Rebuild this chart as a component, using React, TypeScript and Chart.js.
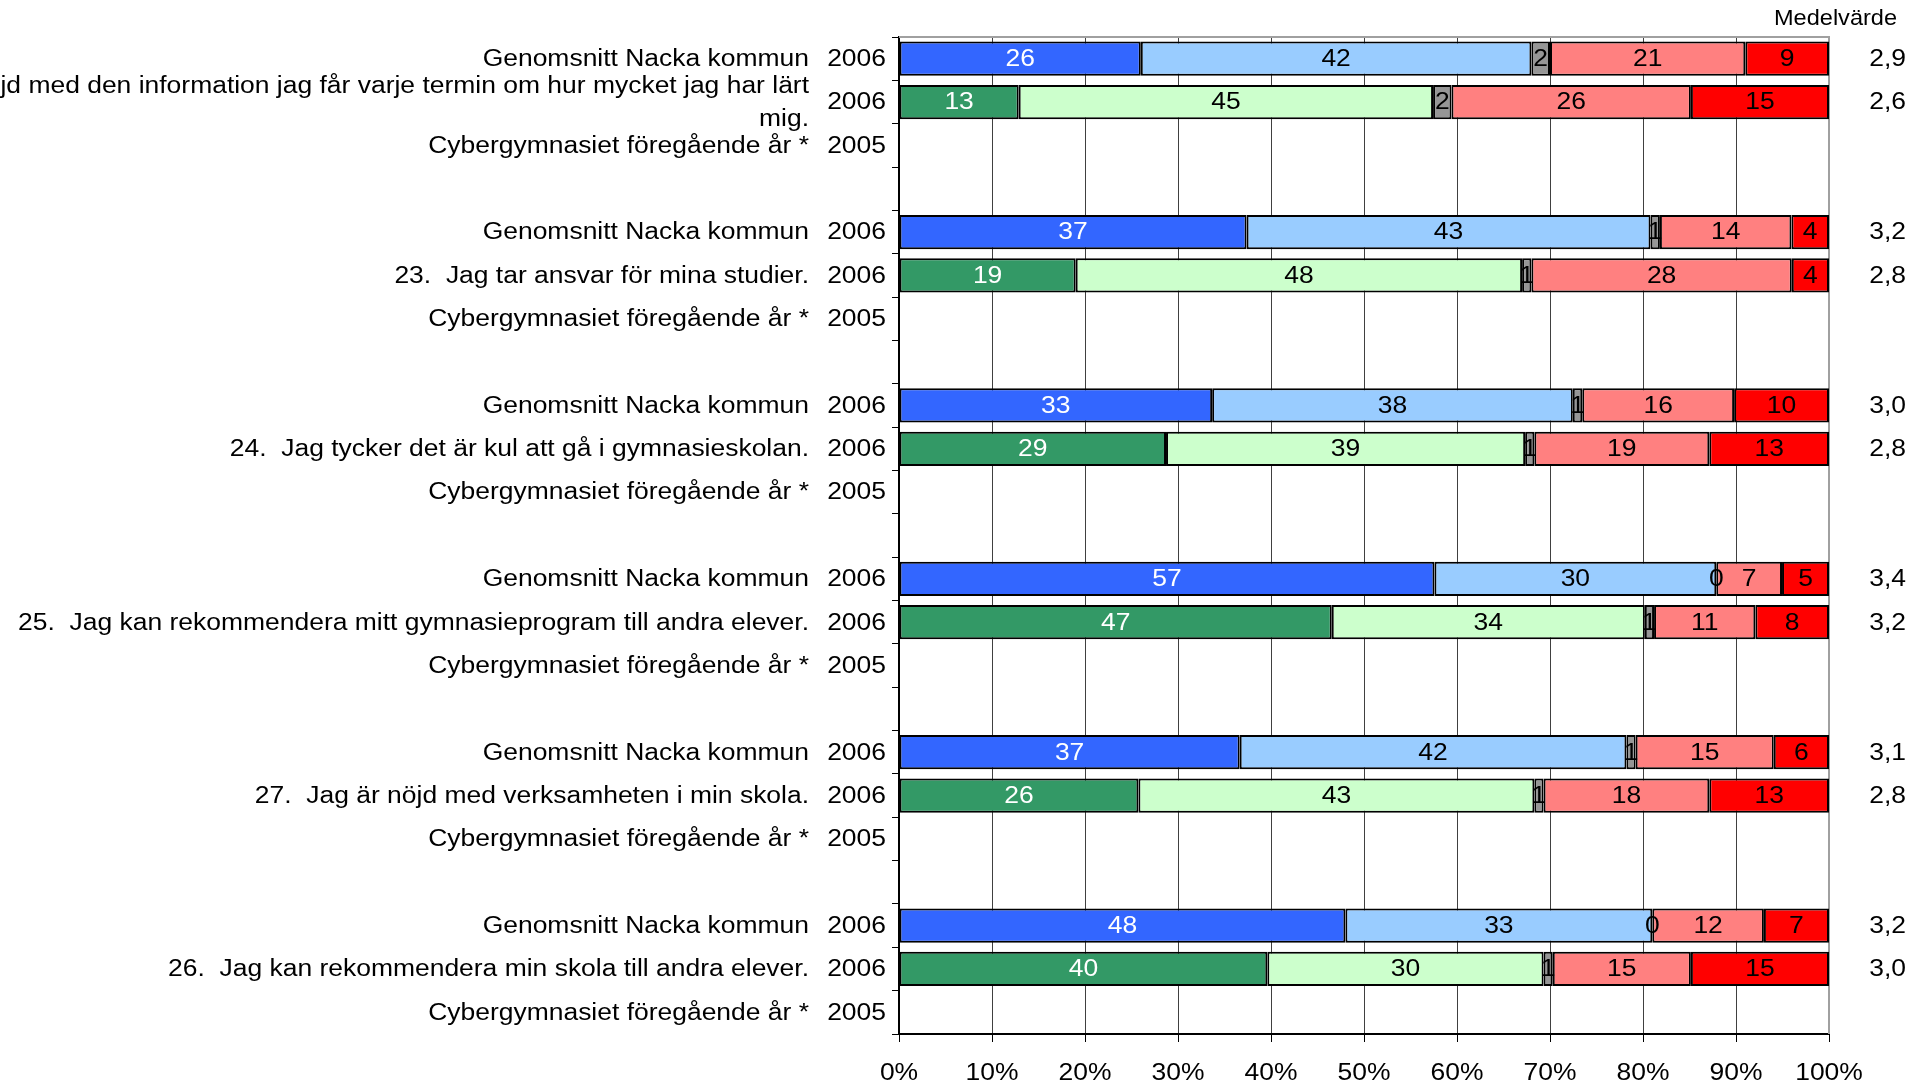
import React, { useEffect, useRef } from "react";
import { Chart, registerables } from "chart.js";

Chart.register(...registerables);

// ---------- data ----------
const rowLabels: string[][] = [
  ["Genomsnitt Nacka kommun"],
  ["22.  Jag är nöjd med den information jag får varje termin om hur mycket jag har lärt", "mig."],
  ["Cybergymnasiet föregående år *"],
  [""],
  ["Genomsnitt Nacka kommun"],
  ["23.  Jag tar ansvar för mina studier."],
  ["Cybergymnasiet föregående år *"],
  [""],
  ["Genomsnitt Nacka kommun"],
  ["24.  Jag tycker det är kul att gå i gymnasieskolan."],
  ["Cybergymnasiet föregående år *"],
  [""],
  ["Genomsnitt Nacka kommun"],
  ["25.  Jag kan rekommendera mitt gymnasieprogram till andra elever."],
  ["Cybergymnasiet föregående år *"],
  [""],
  ["Genomsnitt Nacka kommun"],
  ["27.  Jag är nöjd med verksamheten i min skola."],
  ["Cybergymnasiet föregående år *"],
  [""],
  ["Genomsnitt Nacka kommun"],
  ["26.  Jag kan rekommendera min skola till andra elever."],
  ["Cybergymnasiet föregående år *"],
];

const rowYears: string[] = [
  "2006", "2006", "2005", "",
  "2006", "2006", "2005", "",
  "2006", "2006", "2005", "",
  "2006", "2006", "2005", "",
  "2006", "2006", "2005", "",
  "2006", "2006", "2005",
];

// "n" = Nacka average (blue), "s" = school (green), "" = no bar
const rowKinds: string[] = [
  "n", "s", "", "",
  "n", "s", "", "",
  "n", "s", "", "",
  "n", "s", "", "",
  "n", "s", "", "",
  "n", "s", "",
];

const seriesNames = ["Positivt helt", "Positivt delvis", "Vet ej", "Negativt delvis", "Negativt helt"];

const valuesA: (number | null)[] = [26, 13, null, null, 37, 19, null, null, 33, 29, null, null, 57, 47, null, null, 37, 26, null, null, 48, 40, null];
const valuesB: (number | null)[] = [42, 45, null, null, 43, 48, null, null, 38, 39, null, null, 30, 34, null, null, 42, 43, null, null, 33, 30, null];
const valuesC: (number | null)[] = [2, 2, null, null, 1, 1, null, null, 1, 1, null, null, 0, 1, null, null, 1, 1, null, null, 0, 1, null];
const valuesD: (number | null)[] = [21, 26, null, null, 14, 28, null, null, 16, 19, null, null, 7, 11, null, null, 15, 18, null, null, 12, 15, null];
const valuesE: (number | null)[] = [9, 15, null, null, 4, 4, null, null, 10, 13, null, null, 5, 8, null, null, 6, 13, null, null, 7, 15, null];

const meanValues: string[] = [
  "2,9", "2,6", "", "",
  "3,2", "2,8", "", "",
  "3,0", "2,8", "", "",
  "3,4", "3,2", "", "",
  "3,1", "2,8", "", "",
  "3,2", "3,0", "",
];

const meanHeader = "Medelvärde";
const xTickValues = [0, 10, 20, 30, 40, 50, 60, 70, 80, 90, 100];

// ---------- styling ----------
const colorsNacka = ["#3366FF", "#99CCFF", "#969696", "#FF8080", "#FF0000"];
const colorsSchool = ["#339966", "#CCFFCC", "#969696", "#FF8080", "#FF0000"];
const labelColors = ["#FFFFFF", "#000000", "#000000", "#000000", "#000000"];

const FAMILY = '"Liberation Sans", Arial, Helvetica, sans-serif';
const SX = 1.15;

function drawText(
  ctx: CanvasRenderingContext2D,
  s: string,
  x: number,
  y: number,
  align: CanvasTextAlign,
  color: string,
  size = 23,
  sx = SX
) {
  ctx.save();
  ctx.translate(x, y);
  ctx.scale(sx, 1);
  ctx.font = `${size}px ${FAMILY}`;
  ctx.textAlign = align;
  ctx.textBaseline = "middle";
  ctx.fillStyle = color;
  ctx.fillText(s, 0, 0);
  ctx.restore();
}

export default function App() {
  const ref = useRef<HTMLCanvasElement | null>(null);

  useEffect(() => {
    if (!ref.current) return;
    const series = [valuesA, valuesB, valuesC, valuesD, valuesE];
    const sums = rowKinds.map((_, i) =>
      series.reduce((acc, s) => acc + (s[i] ?? 0), 0)
    );
    const datasets = series.map((s, k) => ({
      label: seriesNames[k],
      data: s.map((v, i) => (v === null ? null : (v / sums[i]) * 100)),
      backgroundColor: rowKinds.map((kind) => (kind === "s" ? colorsSchool[k] : colorsNacka[k])),
      borderColor: "#000000",
      borderWidth: 2,
      borderSkipped: false as const,
      barPercentage: 0.79,
      categoryPercentage: 1,
    }));

    const framePlugin = {
      id: "frame",
      beforeDatasetsDraw(chart: any) {
        const { ctx, chartArea } = chart;
        ctx.save();
        ctx.strokeStyle = "#A0A0A0";
        ctx.lineWidth = 2;
        ctx.beginPath();
        ctx.moveTo(chartArea.left, chartArea.top);
        ctx.lineTo(chartArea.right, chartArea.top);
        ctx.lineTo(chartArea.right, chartArea.bottom);
        ctx.stroke();
        ctx.restore();
      },
    };

    const labelPlugin = {
      id: "labels",
      afterDatasetsDraw(chart: any) {
        const ctx = chart.ctx as CanvasRenderingContext2D;
        chart.data.datasets.forEach((_: any, k: number) => {
          const meta = chart.getDatasetMeta(k);
          meta.data.forEach((el: any, i: number) => {
            const raw = series[k][i];
            if (raw === null) return;
            const c = el.getCenterPoint();
            drawText(ctx, String(raw), c.x, c.y + 1, "center", labelColors[k]);
          });
        });
      },
      afterDraw(chart: any) {
        const ctx = chart.ctx as CanvasRenderingContext2D;
        const y = chart.scales.y;
        const x = chart.scales.x;
        const area = chart.chartArea;
        rowLabels.forEach((lines, i) => {
          const cy = y.getPixelForValue(i);
          const lh = 33;
          const y0 = cy - ((lines.length - 1) * lh) / 2;
          lines.forEach((ln, j) => {
            if (ln) drawText(ctx, ln, area.left - 90, y0 + j * lh + 1, "right", "#000");
          });
          if (rowYears[i]) drawText(ctx, rowYears[i], area.left - 13, cy + 1, "right", "#000");
          if (meanValues[i]) drawText(ctx, meanValues[i], 1906, cy + 1, "right", "#000");
        });
        drawText(ctx, meanHeader, 1897, 19, "right", "#000", 22, 1.07);
        xTickValues.forEach((v) => {
          drawText(ctx, v + "%", x.getPixelForValue(v), area.bottom + 40, "center", "#000");
        });
      },
    };

    const chart = new Chart(ref.current, {
      type: "bar",
      data: {
        labels: rowLabels.map((l) => l.join(" ")),
        datasets,
      },
      options: {
        indexAxis: "y",
        responsive: false,
        animation: false,
        devicePixelRatio: 1,
        layout: { padding: { left: 0, top: 37, right: 97, bottom: 0 } },
        plugins: {
          legend: { display: false },
          title: { display: false },
          tooltip: { enabled: false },
        },
        scales: {
          x: {
            type: "linear",
            stacked: true,
            min: 0,
            max: 100,
            afterBuildTicks: (scale: any) => {
              scale.ticks = xTickValues.map((v) => ({ value: v }));
            },
            ticks: { display: false, stepSize: 10 },
            grid: {
              color: "#404040",
              lineWidth: 1,
              drawTicks: true,
              tickLength: 8,
              tickColor: "#000000",
            },
            border: { display: true, color: "#000000", width: 2 },
            afterFit: (scale: any) => {
              scale.height = 53;
            },
          },
          y: {
            type: "category",
            stacked: true,
            ticks: { display: false },
            grid: {
              display: true,
              offset: true,
              drawOnChartArea: false,
              drawTicks: true,
              tickLength: 7,
              color: "#000000",
              lineWidth: 1,
            },
            border: { display: true, color: "#000000", width: 2 },
            afterFit: (scale: any) => {
              scale.width = 899;
            },
          },
        },
      },
      plugins: [framePlugin, labelPlugin],
    });
    return () => chart.destroy();
  }, []);

  return (
    <div style={{ position: "fixed", left: 0, top: 0, width: 1926, height: 1087, background: "#fff" }}>
      <canvas ref={ref} width={1926} height={1087} style={{ width: 1926, height: 1087, display: "block" }} />
    </div>
  );
}
